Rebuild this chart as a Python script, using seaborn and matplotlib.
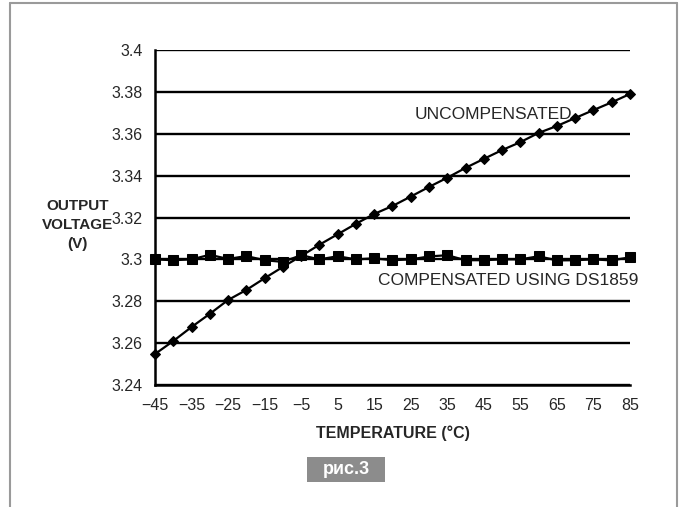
import matplotlib
matplotlib.use("Agg")
import matplotlib.pyplot as plt
import seaborn as sns
import pandas as pd
from matplotlib.patches import Rectangle

# temperature steps (deg C) and measured output voltage
temps = [-45, -40, -35, -30, -25, -20, -15, -10, -5, 0, 5, 10, 15, 20,
         25, 30, 35, 40, 45, 50, 55, 60, 65, 70, 75, 80, 85]
uncompensated = [3.2548, 3.2610, 3.2677, 3.2740, 3.2806, 3.2854, 3.2910,
                 3.2964, 3.3016, 3.3070, 3.3120, 3.3170, 3.3217, 3.3255,
                 3.3300, 3.3346, 3.3390, 3.3437, 3.3480, 3.3522, 3.3560,
                 3.3604, 3.3637, 3.3675, 3.3713, 3.3750, 3.3790]
compensated = [3.3000, 3.2996, 3.3000, 3.3022, 3.3002, 3.3016, 3.2996,
               3.2988, 3.3020, 3.3000, 3.3015, 3.3000, 3.3005, 3.2996,
               3.3000, 3.3014, 3.3020, 3.2996, 3.2996, 3.3000, 3.3000,
               3.3015, 3.2995, 3.2996, 3.3000, 3.2995, 3.3010]

x_ticks = list(range(-45, 86, 10))
y_ticks = [3.24, 3.26, 3.28, 3.30, 3.32, 3.34, 3.36, 3.38, 3.40]
y_tick_labels = ["3.24", "3.26", "3.28", "3.3", "3.32", "3.34", "3.36", "3.38", "3.4"]

df = pd.DataFrame({"Temp": temps, "Unc": uncompensated, "Comp": compensated})

sns.set_style("white")
plt.rcParams["font.family"] = ["Liberation Sans", "DejaVu Sans"]

fig = plt.figure(figsize=(6.84, 5.07), dpi=100)
ax = fig.add_axes([0.2266, 0.2406, 0.6944, 0.6608])

for y in y_ticks:
    ax.axhline(y, color="black", linewidth=1.7, zorder=1)

sns.lineplot(data=df, x="Temp", y="Unc", ax=ax, color="black", linewidth=1.6,
             marker="D", markersize=5.5, markeredgecolor="black", clip_on=False, zorder=3)
sns.lineplot(data=df, x="Temp", y="Comp", ax=ax, color="black", linewidth=1.6,
             marker="s", markersize=6.5, markeredgecolor="black", clip_on=False, zorder=3)

ax.set_xlim(-45, 85)
ax.set_ylim(3.24, 3.40)
ax.set_xticks(x_ticks)
ax.set_xticklabels([str(t).replace("-", "\u2212") for t in x_ticks], fontsize=11.5)
ax.set_yticks(y_ticks)
ax.set_yticklabels(y_tick_labels, fontsize=11.5)
ax.tick_params(axis="both", direction="out", length=4, width=1.3, color="black", pad=5)

for side in ["top", "right"]:
    ax.spines[side].set_visible(False)
for side in ["left", "bottom"]:
    ax.spines[side].set_color("black")
    ax.spines[side].set_linewidth(1.8)

ax.set_xlabel("TEMPERATURE (°C)", fontsize=11.5, fontweight="bold", labelpad=9)
ax.set_ylabel("")

fig.text(0.113, 0.556, "OUTPUT\nVOLTAGE\n(V)", ha="center", va="center",
         fontsize=11, fontweight="bold", linespacing=1.45)

ax.text(47.5, 3.369, "UNCOMPENSATED", ha="center", va="center", fontsize=12.5)
ax.text(51.7, 3.2897, "COMPENSATED USING DS1859", ha="center", va="center", fontsize=12.5)

# "рис.3" caption box
fig.patches.append(Rectangle((0.449, 0.050), 0.114, 0.048, transform=fig.transFigure,
                             facecolor="#8c8c8c", edgecolor="none"))
fig.text(0.506, 0.074, "рис.3", ha="center", va="center", color="white",
         fontsize=13, fontweight="bold")

# scanned page frame
frame_kw = dict(transform=fig.transFigure, color="#9a9a9a", linewidth=1.5)
fig.add_artist(plt.Line2D([0.015, 0.015], [0.0, 0.994], **frame_kw))
fig.add_artist(plt.Line2D([0.015, 0.99], [0.994, 0.994], **frame_kw))
fig.add_artist(plt.Line2D([0.99, 0.99], [0.0, 0.994], **frame_kw))

fig.savefig("out.png", dpi=100)
